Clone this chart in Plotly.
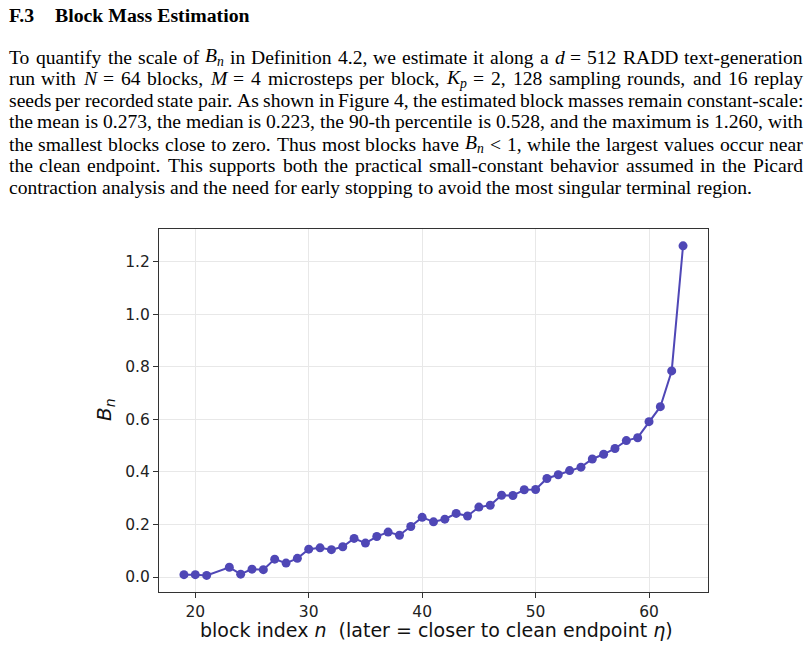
import re
import plotly.graph_objects as go

# ---- data ----
block_index = [19, 20, 21] + list(range(23, 64))
block_mass = [0.009, 0.009, 0.006,
              0.037, 0.011, 0.030, 0.028, 0.068, 0.053, 0.071, 0.106, 0.111, 0.104,
              0.115, 0.147, 0.129, 0.154, 0.171, 0.159, 0.192, 0.227, 0.210, 0.220,
              0.242, 0.232, 0.266, 0.273, 0.311, 0.310, 0.332, 0.333, 0.375, 0.389,
              0.405, 0.418, 0.449, 0.467, 0.489, 0.519, 0.530, 0.591, 0.648, 0.784,
              1.260]
x_ticks = [20, 30, 40, 50, 60]
y_ticks = [0.0, 0.2, 0.4, 0.6, 0.8, 1.0, 1.2]

section_number = "F.3"
section_title = "Block Mass Estimation"
body_lines = [
    "To quantify the scale of <i>B</i><sub><i>n</i></sub> in Definition 4.2, we estimate it along a <i>d</i> = 512 RADD text-generation",
    "run with <i>N</i> = 64 blocks, <i>M</i> = 4 microsteps per block, <i>K</i><sub><i>p</i></sub> = 2, 128 sampling rounds, and 16 replay",
    "seeds per recorded state pair. As shown in Figure 4, the estimated block masses remain constant-scale:",
    "the mean is 0.273, the median is 0.223, the 90-th percentile is 0.528, and the maximum is 1.260, with",
    "the smallest blocks close to zero. Thus most blocks have <i>B</i><sub><i>n</i></sub> &lt; 1, while the largest values occur near",
    "the clean endpoint. This supports both the practical small-constant behavior assumed in the Picard",
    "contraction analysis and the need for early stopping to avoid the most singular terminal region.",
]
x_label = "block index <i>n</i>  (later = closer to clean endpoint <i>η</i>)"
y_label = "<i>B</i><sub><i>n</i></sub>"

W, H = 807, 646
COLOR = "#4f47b6"

fig = go.Figure()
fig.add_trace(go.Scatter(
    x=block_index, y=block_mass, mode="lines+markers",
    line=dict(color=COLOR, width=2),
    marker=dict(color=COLOR, size=9),
    showlegend=False,
))

axis_common = dict(
    showline=True, linecolor="#333333", linewidth=1.2, mirror=True,
    ticks="outside", ticklen=5, tickwidth=1.2, tickcolor="#333333",
    showgrid=True, gridcolor="#e8e8e8", gridwidth=1, zeroline=False,
    tickfont=dict(family="DejaVu Sans", size=15.5, color="#222222"),
)

fig.update_layout(
    width=W, height=H,
    margin=dict(l=0, r=0, t=0, b=0),
    paper_bgcolor="white", plot_bgcolor="white",
    xaxis=dict(domain=[159 / W, 708 / W], range=[16.8, 65.2],
               tickvals=x_ticks, **axis_common),
    yaxis=dict(domain=[1 - 592 / H, 1 - 229 / H], range=[-0.057, 1.324],
               tickvals=y_ticks, tickformat=".1f", **axis_common),
)

# ---- text layout helpers (Times / Liberation Serif advance widths, per 1000 em) ----
ROMAN = dict(zip("abcdefghijklmnopqrstuvwxyz",
                 [444, 500, 444, 500, 444, 333, 500, 500, 278, 278, 500, 278, 778,
                  500, 500, 500, 500, 333, 389, 278, 500, 500, 722, 500, 500, 444]))
ROMAN.update(zip("ABCDEFGHIJKLMNOPQRSTUVWXYZ",
                 [722, 667, 667, 722, 611, 556, 722, 722, 333, 389, 722, 611, 889,
                  722, 722, 556, 722, 667, 556, 611, 722, 722, 944, 722, 722, 611]))
ROMAN.update({c: 500 for c in "0123456789"})
ROMAN.update({".": 250, ",": 250, ":": 278, "-": 333, "=": 564, "<": 564, " ": 250})
ITALIC = dict(ROMAN)
ITALIC.update({"B": 611, "N": 667, "M": 833, "K": 667, "n": 500, "d": 500, "p": 500})


def word_width(word, size):
    w = 0.0
    italic = False
    scale = 1.0
    for tok in re.split(r"(<[^>]+>|&lt;)", word):
        if not tok:
            continue
        if tok == "<i>":
            italic = True
        elif tok == "</i>":
            italic = False
        elif tok == "<sub>":
            scale = 0.7
        elif tok == "</sub>":
            scale = 1.0
        elif tok == "&lt;":
            w += 564 * scale
        elif tok.startswith("<"):
            continue
        else:
            table = ITALIC if italic else ROMAN
            for ch in tok:
                w += table.get(ch, 500) * scale
    return w * size / 1000.0


serif = "Liberation Serif"
BODY_SIZE = 19.6
LEFT, RIGHT = 7.5, 802.0
ann = []
ann.append(dict(text="<b>" + section_number + "</b>", x=7 / W, y=1 - 15 / H,
                xanchor="left", yanchor="middle",
                font=dict(family=serif, size=19.8, color="black")))
ann.append(dict(text="<b>" + section_title + "</b>", x=53 / W, y=1 - 15 / H,
                xanchor="left", yanchor="middle",
                font=dict(family=serif, size=19.8, color="black")))
line_y = [57, 79, 100, 122, 144, 165, 187]
for li, (txt, yy) in enumerate(zip(body_lines, line_y)):
    words = txt.split(" ")
    widths = [word_width(w, BODY_SIZE) for w in words]
    if li < len(body_lines) - 1:
        gap = (RIGHT - LEFT - sum(widths)) / (len(words) - 1)
    else:
        gap = 250 * BODY_SIZE / 1000.0
    x = LEFT
    for w, ww in zip(words, widths):
        ann.append(dict(text=w, x=(x - 1) / W, y=1 - yy / H, xanchor="left",
                        yanchor="middle",
                        font=dict(family=serif, size=BODY_SIZE, color="black")))
        x += ww + gap
ann.append(dict(text=x_label, x=(202 + 670) / 2 / W, y=1 - 630 / H,
                xanchor="center", yanchor="middle",
                font=dict(family="DejaVu Sans", size=19, color="#111111")))
ann.append(dict(text=y_label, x=105 / W, y=1 - 410 / H, textangle=-90,
                xanchor="center", yanchor="middle",
                font=dict(family="DejaVu Sans", size=20, color="#111111")))
for a in ann:
    a.update(xref="paper", yref="paper", showarrow=False)
fig.update_layout(annotations=ann)

fig.write_html("out.html")
